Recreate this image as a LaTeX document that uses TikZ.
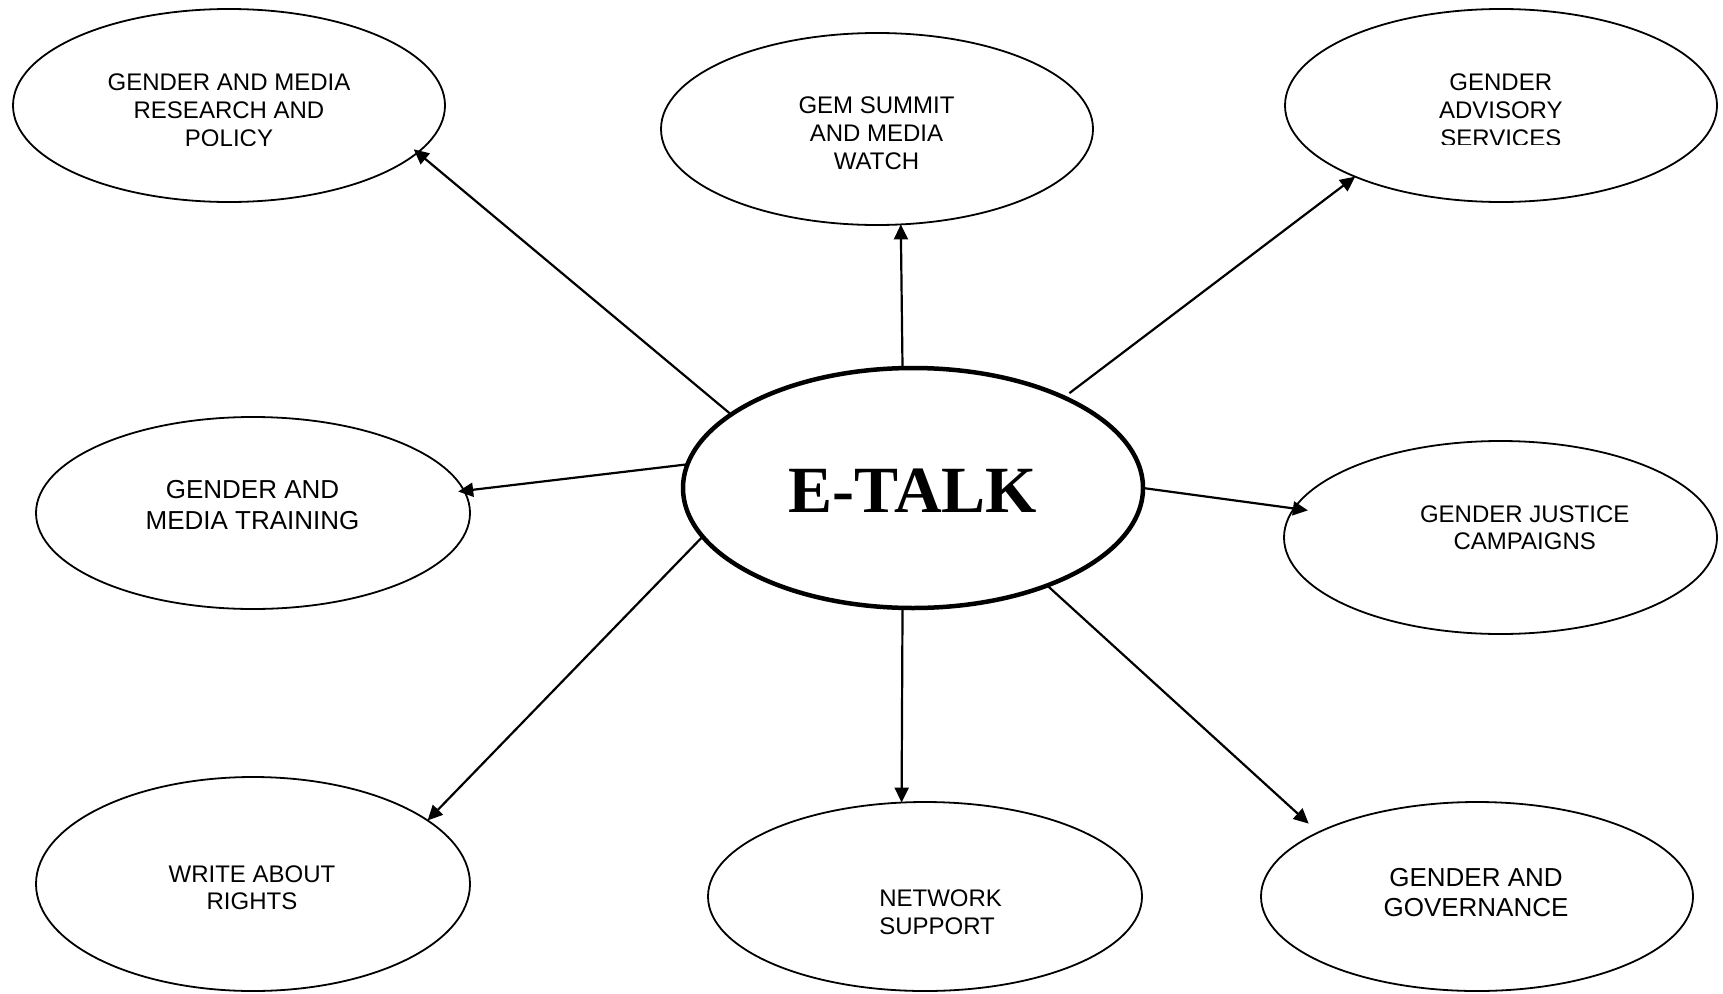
\documentclass[tikz,border=0pt]{standalone}
\usepackage{fontspec}
\setmainfont{Liberation Sans}
\newfontfamily\hubfont{Liberation Serif}
\usetikzlibrary{arrows.meta,shapes.geometric}

\begin{document}
\begin{tikzpicture}[x=1pt,y=-1pt,
  topic/.style={draw, ellipse, line width=1.8pt, inner sep=0pt, outer sep=0pt},
  hub/.style={draw, ellipse, line width=4.5pt, inner sep=0pt, outer sep=0pt,
              minimum width=460pt, minimum height=240pt},
  caption/.style={inner sep=0pt, outer sep=0pt, align=center, anchor=base,
                  font=\fontsize{24}{28}\selectfont},
  link/.style={line width=2.2pt, -{Triangle[length=15pt,width=14pt]}}
]
\useasboundingbox (0,0) rectangle (1723,993);

% central hub
\node[hub] (etalk) at (913,488) {};
\node[inner sep=0pt, anchor=base, font=\hubfont\bfseries\fontsize{66}{66}\selectfont]
  (etalk-t) at (913,512) {E-TALK};

% surrounding topics
\node[topic, minimum width=432pt, minimum height=193pt] (research)   at (229,105.5)  {};
\node[topic, minimum width=432pt, minimum height=192pt] (gem)        at (877,129)    {};
\node[topic, minimum width=432pt, minimum height=193pt] (advisory)   at (1501,105.5) {};
\node[topic, minimum width=434pt, minimum height=192pt] (training)   at (253,513)    {};
\node[topic, minimum width=433pt, minimum height=193pt] (justice)    at (1500.5,537.5) {};
\node[topic, minimum width=434pt, minimum height=214pt] (rights)     at (253,884)    {};
\node[topic, minimum width=434pt, minimum height=189pt] (network)    at (925,896.5)  {};
\node[topic, minimum width=432pt, minimum height=189pt] (governance) at (1477,896.5) {};

% captions (placed by the baseline of their last line);
% the top-row captions are cut off at the bottom of their text frames
\begin{scope}
  \clip (0,0) rectangle (1723,145.5);
  \node[caption] (research-t) at (229,146) {GENDER AND MEDIA\\RESEARCH AND\\POLICY};
\end{scope}
\begin{scope}
  \clip (0,0) rectangle (1723,144);
  \node[caption] (advisory-t) at (1500.8,146) {GENDER\\ADVISORY\\SERVICES};
\end{scope}
\node[caption] (gem-t) at (876.5,169) {GEM SUMMIT\\AND MEDIA\\WATCH};
\node[caption, font=\fontsize{26}{30.5}\selectfont] (training-t) at (252.5,529.3) {GENDER AND\\MEDIA TRAINING};
\node[caption, font=\fontsize{24}{27}\selectfont] (justice-t) at (1524.7,549.5) {GENDER JUSTICE\\CAMPAIGNS};
\node[caption, font=\fontsize{24}{27}\selectfont] (rights-t) at (252,909.3) {WRITE ABOUT\\RIGHTS};
\node[caption, align=left, anchor=base west, font=\fontsize{24}{27.3}\selectfont] (network-t) at (879.3,934) {NETWORK\\SUPPORT};
\node[caption, font=\fontsize{26}{29.3}\selectfont] (governance-t) at (1476,916) {GENDER AND\\GOVERNANCE};

% connectors from the hub
\draw[link, shorten >=-5pt] (etalk.158.1) -- (research.-14.2);
\draw[link] (etalk.95.7) -- (gem.-76);
\draw[link, shorten <=7pt] (etalk.31.5) -- (advisory.206.6);
\draw[link, shorten >=-6pt] (etalk.174.2) -- (training.6.3);
\draw[link, shorten >=-14pt] (etalk.-0.5) -- (justice.172.5);
\draw[link] (etalk.193.7) -- (rights.20.1);
\draw[link] (etalk.-95.7) -- (network.104.1);
\draw[link, shorten >=13pt] (etalk.-36.5) -- (governance.158.2);
\end{tikzpicture}
\end{document}
